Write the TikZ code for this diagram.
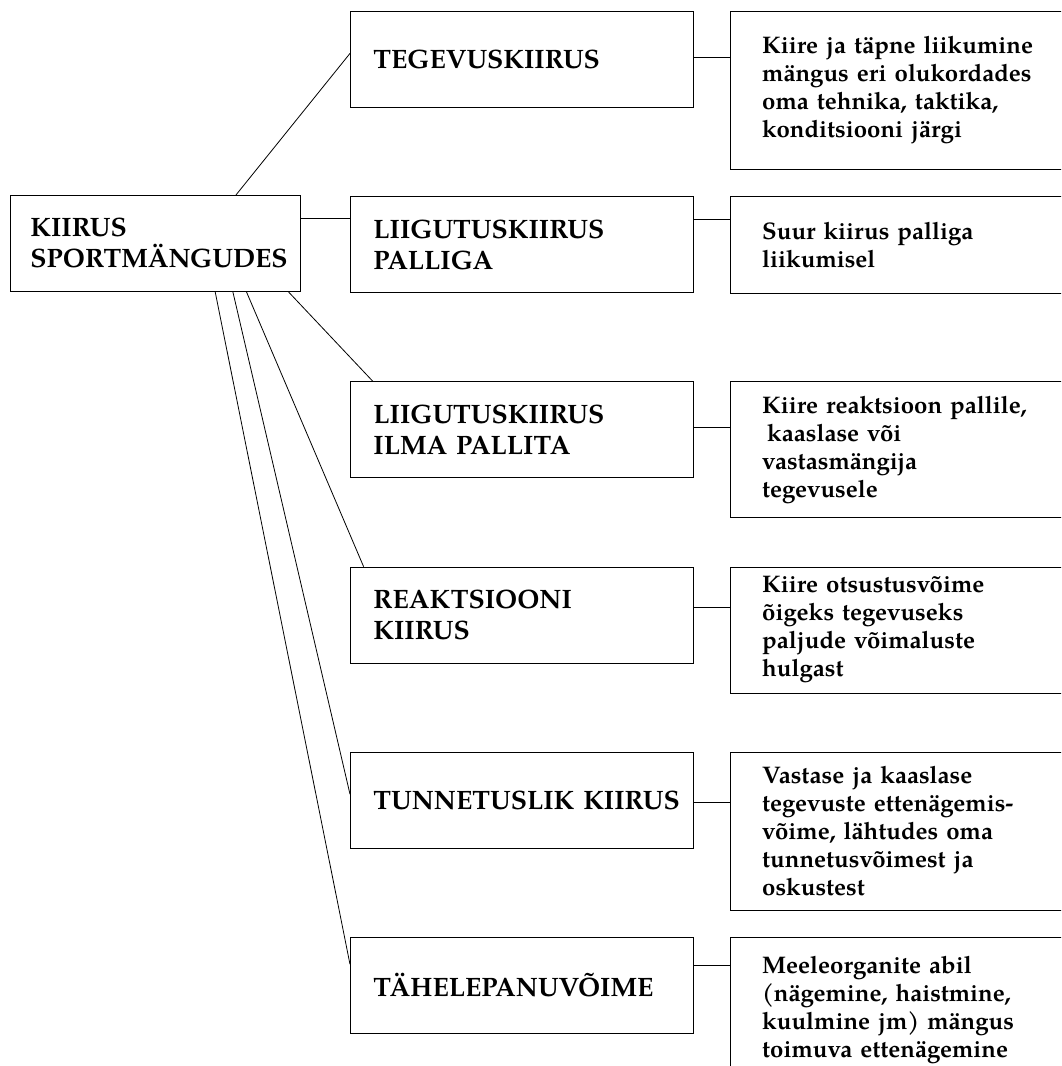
\documentclass[tikz,border=0pt]{standalone}
\usepackage{fontspec}
\setmainfont{TeX Gyre Pagella}
\usetikzlibrary{positioning}

\begin{document}
\begin{tikzpicture}[x=1pt, y=1pt, node distance=88.4pt, line width=0.8pt,
    kast/.style={draw, rectangle, anchor=north west, minimum height=96pt, inner xsep=23pt, text width=297pt, align=left, font=\fontsize{26.6}{31}\selectfont\bfseries},
    selgitus/.style={draw, rectangle, inner xsep=32pt, text width=300pt, align=left, font=\fontsize{24}{28}\selectfont\bfseries}]
        \clip (0,0) rectangle (1061,-1066); % Picture frame

        % Main node and the six kinds of speed
        \node[kast, text width=250pt, inner xsep=20pt] (k0) at (10,-195) {KIIRUS\\SPORTMÄNGUDES};
        \node[kast] (m1) at (350,-11) {TEGEVUSKIIRUS};
        \node[kast, below=of m1] (m2) {LIIGUTUSKIIRUS\\PALLIGA};
        \node[kast, below=of m2] (m3) {LIIGUTUSKIIRUS\\ILMA PALLITA};
        \node[kast, below=of m3] (m4) {REAKTSIOONI\\KIIRUS};
        \node[kast, below=of m4] (m5) {\mbox{TUNNETUSLIK KIIRUS}};
        \node[kast, below=of m5] (m6) {TÄHELEPANUVÕIME};

        % Explanations, right of each box
        \node[selgitus, right=36pt of m1.north east, anchor=north west, minimum height=158pt] (s1) {Kiire ja täpne liikumine\\mängus eri olukordades\\oma tehnika, taktika,\\konditsiooni järgi};
        \node[selgitus, right=36pt of m2.north east, anchor=north west, minimum height=97pt] (s2) {Suur kiirus palliga\\liikumisel};
        \node[selgitus, right=36pt of m3.north east, anchor=north west, minimum height=136pt] (s3) {Kiire reaktsioon pallile,\\\hspace*{5pt}kaaslase või\\vastasmängija\\tegevusele};
        \node[selgitus, right=36pt of m4.north east, anchor=north west, minimum height=126pt] (s4) {Kiire otsustusvõime\\õigeks tegevuseks\\paljude võimaluste\\hulgast};
        \node[selgitus, right=36pt of m5.north east, anchor=north west, minimum height=158pt] (s5) {Vastase ja kaaslase\\tegevuste ettenägemis-\\võime, lähtudes oma\\tunnetusvõimest ja\\oskustest};
        \node[selgitus, right=36pt of m6.north east, anchor=north west, minimum height=146pt] (s6) {Meeleorganite abil\\(nägemine, haistmine,\\kuulmine jm) mängus\\toimuva ettenägemine};

        % Lines from the main node
        \draw (k0.31.6) -- (m1.178); % To TEGEVUSKIIRUS
        \draw ([yshift=25pt]k0.east) -- ([yshift=25pt]k0.east -| m2.west); % To LIIGUTUSKIIRUS PALLIGA
        \draw (k0.-20.6) -- (m3.162.6); % To LIIGUTUSKIIRUS ILMA PALLITA
        \draw (k0.-28.6) -- (m4.163.7); % To REAKTSIOONI KIIRUS
        \draw (k0.-32.6) -- (m5.178.2); % To TUNNETUSLIK KIIRUS
        \draw (k0.-39.1) -- (m6.173); % To TÄHELEPANUVÕIME

        % Short lines to the explanations
        \draw ([yshift=2pt]m1.east) -- ([yshift=2pt]m1.east -| s1.west);
        \draw ([yshift=25pt]m2.east) -- ([yshift=25pt]m2.east -| s2.west);
        \draw ([yshift=2.5pt]m3.east) -- ([yshift=2.5pt]m3.east -| s3.west);
        \draw ([yshift=8pt]m4.east) -- ([yshift=8pt]m4.east -| s4.west);
        \draw ([yshift=-2.5pt]m5.east) -- ([yshift=-2.5pt]m5.east -| s5.west);
        \draw ([yshift=20pt]m6.east) -- ([yshift=20pt]m6.east -| s6.west);
    \end{tikzpicture}
\end{document}
